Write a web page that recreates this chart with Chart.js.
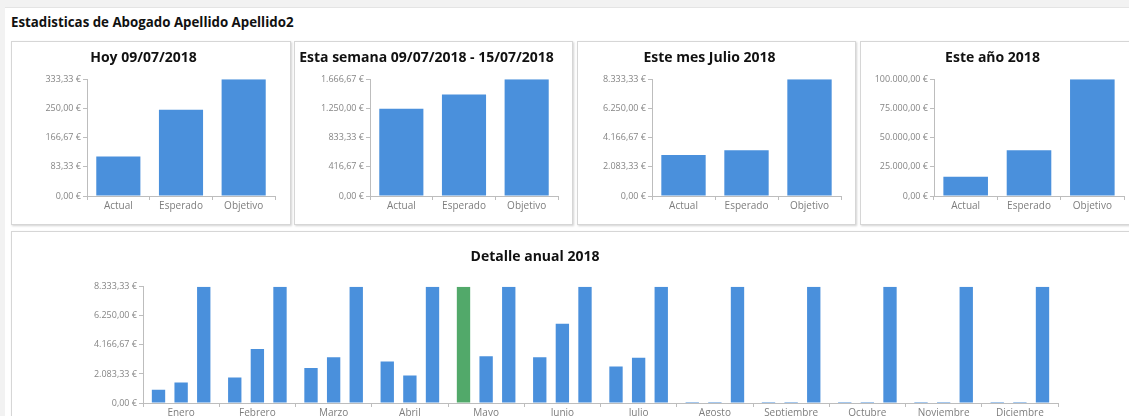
<!DOCTYPE html>
<html lang="es">
<head>
<meta charset="utf-8">
<title>Estadisticas de Abogado</title>
<script src="https://cdn.jsdelivr.net/npm/chart.js@4.4.1/dist/chart.umd.min.js"></script>
<style>
  html, body { margin: 0; padding: 0; }
  body {
    width: 1129px; height: 416px; overflow: hidden;
    background: #f2f2f2; font-family: "Open Sans", sans-serif; position: relative;
  }
  .sheet {
    position: absolute; left: 5px; top: 7px; width: 1140px; height: 420px;
    background: #fff; border-top: 1px solid #e4e4e4;
  }
  .sheet h1 {
    position: absolute; left: 6px; top: 5px; margin: 0;
    font-size: 13.3px; font-weight: bold; color: #111; white-space: nowrap;
  }
  .panel {
    position: absolute; box-sizing: border-box; background: #fff;
    border: 1px solid #d6d6d6; box-shadow: 1px 1px 2px rgba(0,0,0,0.18);
  }
  .panel canvas { display: block; }
</style>
</head>
<body>
<div class="sheet">
  <h1>Estadisticas de Abogado Apellido Apellido2</h1>
</div>

<div class="panel" style="left:11px; top:41px; width:280px; height:184px"><canvas id="hoy" width="278" height="182"></canvas></div>
<div class="panel" style="left:294px; top:41px; width:279px; height:184px"><canvas id="semana" width="277" height="182"></canvas></div>
<div class="panel" style="left:577px; top:41px; width:279px; height:184px"><canvas id="mes" width="277" height="182"></canvas></div>
<div class="panel" style="left:860px; top:41px; width:274px; height:184px"><canvas id="anio" width="272" height="182"></canvas></div>
<div class="panel" style="left:11px; top:231px; width:1124px; height:204px"><canvas id="anual" width="1122" height="202"></canvas></div>

<script>
// --- datos ---
const resumenLabels = ['Actual', 'Esperado', 'Objetivo'];

const hoyValores = [113, 246, 333.33];
const hoyTicks = [0, 83.33, 166.67, 250, 333.33];

const semanaValores = [1246, 1449, 1666.67];
const semanaTicks = [0, 416.67, 833.33, 1250, 1666.67];

const mesValores = [2920, 3260, 8333.33];
const mesTicks = [0, 2083.33, 4166.67, 6250, 8333.33];

const anioValores = [16500, 39100, 100000];
const anioTicks = [0, 25000, 50000, 75000, 100000];

const meses = ['Enero', 'Febrero', 'Marzo', 'Abril', 'Mayo', 'Junio', 'Julio',
  'Agosto', 'Septiembre', 'Octubre', 'Noviembre', 'Diciembre'];
const mesActual   = [942, 1835, 2512, 2971, 8333.33, 3285, 2609, 0, 0, 0, 0, 0];
const mesEsperado = [1473, 3865, 3285, 1980, 3357, 5676, 3237, 0, 0, 0, 0, 0];
const mesObjetivo = [8333.33, 8333.33, 8333.33, 8333.33, 8333.33, 8333.33,
  8333.33, 8333.33, 8333.33, 8333.33, 8333.33, 8333.33];
const anualTicks = [0, 2083.33, 4166.67, 6250, 8333.33];

const AZUL = '#4a90dc';
const VERDE = '#52a96a';
const EJE = '#bdbdbd';
const FUENTE = '"Open Sans", sans-serif';

// 1234.5 -> "1.234,50 €"
function euros(v) {
  const [ent, dec] = Math.abs(v).toFixed(2).split('.');
  const miles = ent.replace(/\B(?=(\d{3})+(?!\d))/g, '.');
  return (v < 0 ? '-' : '') + miles + ',' + dec + ' €';
}

function escalas(ticks, yWidth, xHeight) {
  return {
    x: {
      border: { color: EJE },
      grid: { drawOnChartArea: false, drawTicks: true, tickLength: 4, color: EJE, offset: true },
      ticks: { color: '#7d7d7d', padding: 0, font: { family: FUENTE, size: 10 } },
      afterFit: s => { s.height = xHeight; }
    },
    y: {
      min: 0,
      max: ticks[ticks.length - 1],
      border: { color: EJE },
      grid: { drawOnChartArea: false, drawTicks: true, tickLength: 4, color: EJE },
      ticks: { color: '#858585', padding: 2, font: { family: FUENTE, size: 9 }, callback: v => euros(v) },
      afterBuildTicks: s => { s.ticks = ticks.map(v => ({ value: v })); },
      afterFit: s => { s.width = yWidth; }
    }
  };
}

function titulo(texto, top, bottom) {
  return {
    display: true,
    text: texto,
    color: '#111',
    font: { family: FUENTE, size: 14, weight: 'bold' },
    padding: { top: top, bottom: bottom }
  };
}

function resumen(id, texto, valores, ticks, yWidth, right) {
  const ctx = document.getElementById(id).getContext('2d');
  return new Chart(ctx, {
    type: 'bar',
    data: {
      labels: resumenLabels,
      datasets: [{ data: valores, backgroundColor: AZUL, categoryPercentage: 0.8, barPercentage: 0.88 }]
    },
    options: {
      responsive: false,
      animation: false,
      devicePixelRatio: 1,
      layout: { padding: { left: 0, right: right, top: 0, bottom: 0 } },
      plugins: {
        legend: { display: false },
        tooltip: { enabled: false },
        title: titulo(texto, 8, 12.5)
      },
      scales: escalas(ticks, yWidth, 28)
    }
  });
}

resumen('hoy', 'Hoy 09/07/2018', hoyValores, hoyTicks, 75, 15);
resumen('semana', 'Esta semana 09/07/2018 - 15/07/2018', semanaValores, semanaTicks, 75, 14);
resumen('mes', 'Este mes Julio 2018', mesValores, mesTicks, 74, 14);
resumen('anio', 'Este año 2018', anioValores, anioTicks, 73, 9);

// el mes en que lo real alcanza el objetivo se pinta en verde
const coloresActual = mesActual.map((v, i) => v >= mesObjetivo[i] ? VERDE : AZUL);

new Chart(document.getElementById('anual').getContext('2d'), {
  type: 'bar',
  data: {
    labels: meses,
    datasets: [
      { label: 'Actual', data: mesActual, backgroundColor: coloresActual },
      { label: 'Esperado', data: mesEsperado, backgroundColor: AZUL },
      { label: 'Objetivo', data: mesObjetivo, backgroundColor: AZUL }
    ]
  },
  options: {
    responsive: false,
    animation: false,
    devicePixelRatio: 1,
    datasets: { bar: { categoryPercentage: 0.89, barPercentage: 0.59, minBarLength: 1 } },
    layout: { padding: { left: 0, right: 76, top: 0, bottom: 0 } },
    plugins: {
      legend: { display: false },
      tooltip: { enabled: false },
      title: titulo('Detalle anual 2018', 17, 21)
    },
    scales: escalas(anualTicks, 131, 31)
  }
});
</script>
</body>
</html>
